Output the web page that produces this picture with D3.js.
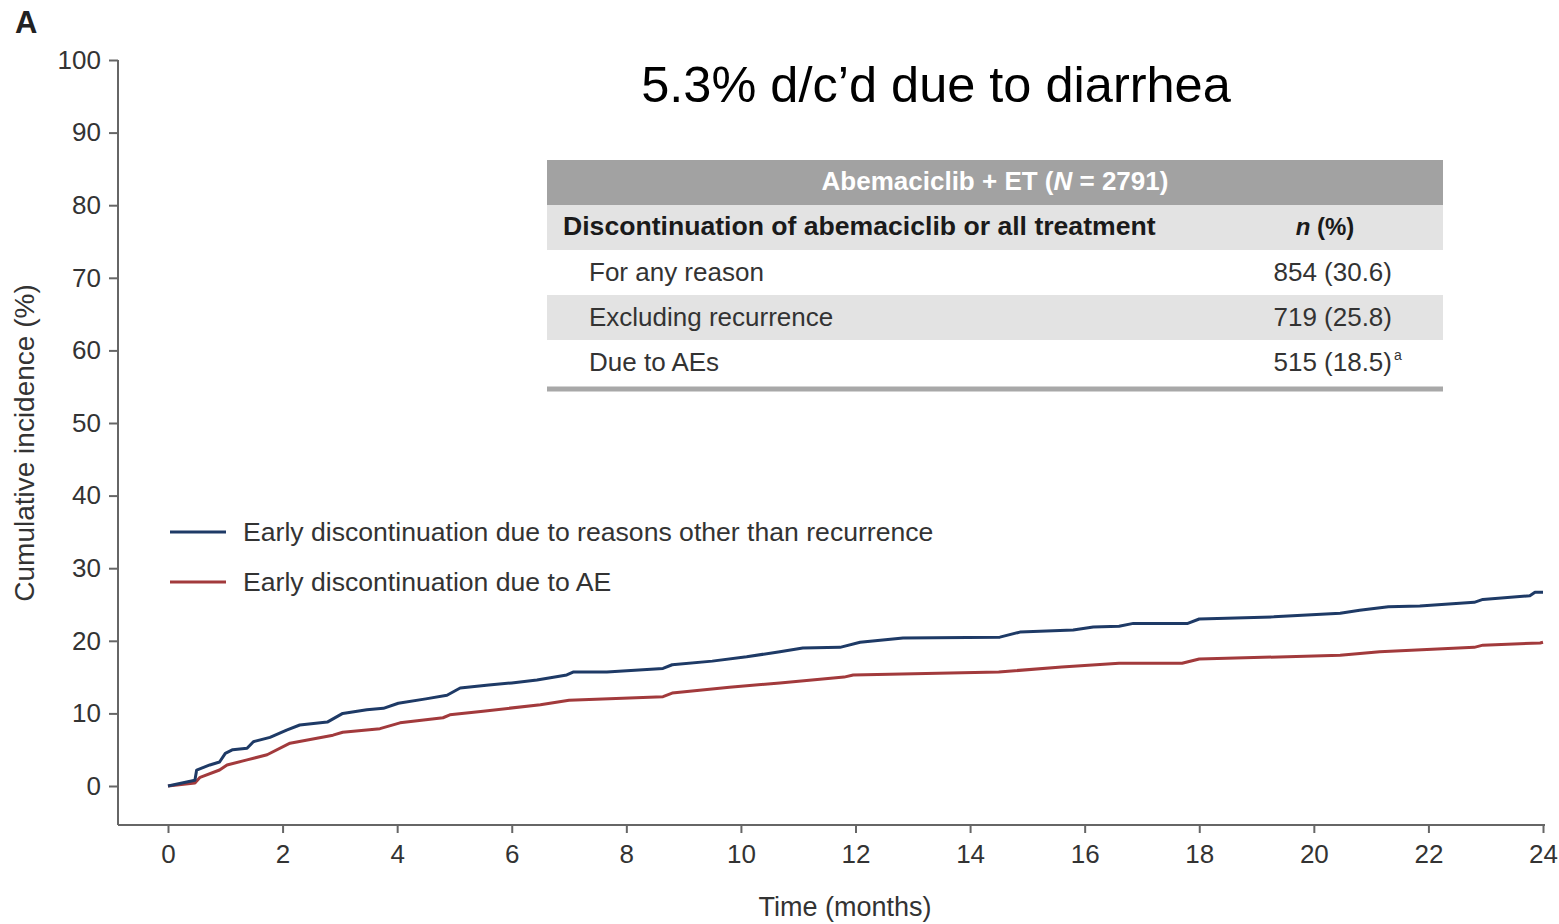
<!DOCTYPE html>
<html>
<head>
<meta charset="utf-8">
<script src="https://cdn.jsdelivr.net/npm/d3@7"></script>
<style>
  body { margin: 0; background: #fff; }
  svg { display: block; font-family: "Liberation Sans", Arial, sans-serif; }
</style>
</head>
<body>
<div id="chart"></div>
<script>
/* DATA */
const otherMonths = [0, 0.47, 0.5, 0.73, 0.9, 1.0, 1.13, 1.38, 1.49, 1.78, 2.07, 2.3, 2.78, 3.05, 3.47, 3.76, 4.02, 4.5, 4.87, 5.1, 5.6, 6.0, 6.44, 6.96, 7.07, 7.66, 8.64, 8.8, 9.5, 10.1, 10.68, 11.08, 11.73, 12.08, 12.83, 14.52, 14.87, 15.8, 16.15, 16.6, 16.85, 17.8, 18.0, 19.3, 20.46, 20.8, 21.3, 21.85, 22.8, 22.95, 23.77, 23.86, 24.0];
const otherValues = [0, 0.8, 2.2, 2.9, 3.3, 4.5, 5.0, 5.2, 6.1, 6.7, 7.7, 8.4, 8.8, 10.0, 10.5, 10.7, 11.4, 12.0, 12.5, 13.5, 13.9, 14.2, 14.6, 15.3, 15.7, 15.7, 16.2, 16.7, 17.2, 17.8, 18.5, 19.0, 19.1, 19.8, 20.4, 20.5, 21.2, 21.5, 21.9, 22.0, 22.4, 22.4, 23.0, 23.3, 23.8, 24.2, 24.7, 24.8, 25.3, 25.7, 26.2, 26.7, 26.7];

const aeMonths = [0, 0.47, 0.56, 0.9, 1.03, 1.38, 1.73, 2.13, 2.88, 3.05, 3.7, 4.05, 4.8, 4.92, 5.5, 6.5, 7.0, 8.64, 8.8, 9.8, 10.68, 11.8, 11.96, 14.5, 15.6, 16.6, 17.7, 18.0, 20.46, 21.15, 22.8, 22.95, 23.95, 24.0];
const aeValues = [0, 0.4, 1.2, 2.2, 2.9, 3.6, 4.3, 5.9, 7.0, 7.4, 7.9, 8.7, 9.4, 9.8, 10.3, 11.2, 11.8, 12.3, 12.8, 13.6, 14.2, 15.0, 15.3, 15.7, 16.4, 16.9, 16.9, 17.5, 18.0, 18.5, 19.1, 19.4, 19.7, 19.8];

const xTicks = d3.range(0, 25, 2);
const yTicks = d3.range(0, 101, 10);

const legendLabels = ["Early discontinuation due to reasons other than recurrence", "Early discontinuation due to AE"];
const seriesColors = ["#1e3a66", "#a23a3c"];

const tableRows = [
  ["For any reason", "854 (30.6)", ""],
  ["Excluding recurrence", "719 (25.8)", ""],
  ["Due to AEs", "515 (18.5)", "a"]
];

/* LAYOUT */
const width = 1559, height = 924;
const textColor = "#333";
const axisColor = "#666";

const svg = d3.select("#chart").append("svg")
  .attr("width", width)
  .attr("height", height);

const xScale = d3.scaleLinear().domain([0, 24]).range([168, 1543]);
const yScale = d3.scaleLinear().domain([0, 100]).range([786, 60]);

const axisLeftX = 118, axisBottomY = 825;

// y axis
const yAxisGroup = svg.append("g")
  .attr("transform", `translate(${axisLeftX},0)`)
  .call(d3.axisLeft(yScale).tickValues(yTicks).tickSize(9).tickPadding(8).tickSizeOuter(0));
yAxisGroup.select(".domain").remove();
yAxisGroup.append("line")
  .attr("x1", 0).attr("x2", 0)
  .attr("y1", yScale(100)).attr("y2", axisBottomY)
  .attr("stroke", axisColor).attr("stroke-width", 2);

// x axis
const xAxisGroup = svg.append("g")
  .attr("transform", `translate(0,${axisBottomY})`)
  .call(d3.axisBottom(xScale).tickValues(xTicks).tickSize(8).tickPadding(12).tickSizeOuter(0));
xAxisGroup.select(".domain").remove();
xAxisGroup.append("line")
  .attr("x1", axisLeftX).attr("x2", xScale(24) + 2)
  .attr("y1", 0).attr("y2", 0)
  .attr("stroke", axisColor).attr("stroke-width", 2);

[yAxisGroup, xAxisGroup].forEach(g => {
  g.selectAll(".tick line").attr("stroke", axisColor).attr("stroke-width", 2);
  g.selectAll(".tick text")
    .attr("fill", textColor)
    .style("font-size", "26px")
    .style("font-family", "'Liberation Sans', Arial, sans-serif");
});

// axis labels
svg.append("text")
  .attr("x", 845)
  .attr("y", 916)
  .attr("text-anchor", "middle")
  .attr("fill", textColor)
  .style("font-size", "27px")
  .text("Time (months)");

svg.append("text")
  .attr("transform", "translate(34,443) rotate(-90)")
  .attr("text-anchor", "middle")
  .attr("fill", textColor)
  .style("font-size", "28px")
  .text("Cumulative incidence (%)");

// panel letter
svg.append("text")
  .attr("x", 15).attr("y", 33)
  .attr("fill", "#222")
  .style("font-size", "31px")
  .style("font-weight", "bold")
  .text("A");

// title annotation
svg.append("text")
  .attr("x", 936).attr("y", 102)
  .attr("text-anchor", "middle")
  .attr("fill", "#000")
  .style("font-size", "50.5px")
  .text("5.3% d/c\u2019d due to diarrhea");

/* LINES */
const lineGen = d3.line()
  .x(d => xScale(d[0]))
  .y(d => yScale(d[1]));

const series = [
  d3.zip(otherMonths, otherValues),
  d3.zip(aeMonths, aeValues)
];

svg.selectAll(".line")
  .data(series.slice().reverse())
  .join("path")
  .attr("class", "line")
  .attr("d", lineGen)
  .attr("fill", "none")
  .attr("stroke", (d, i) => seriesColors[1 - i])
  .attr("stroke-width", 3)
  .attr("stroke-linejoin", "round");

/* LEGEND */
const legend = svg.selectAll(".legend")
  .data(legendLabels)
  .join("g")
  .attr("class", "legend")
  .attr("transform", (d, i) => `translate(170,${532 + i * 50})`);

legend.append("line")
  .attr("x1", 0).attr("x2", 56)
  .attr("stroke", (d, i) => seriesColors[i])
  .attr("stroke-width", 3);

legend.append("text")
  .attr("x", 73).attr("y", 9)
  .attr("fill", textColor)
  .style("font-size", "26.6px")
  .text(d => d);

/* TABLE */
const tableLeft = 547, tableRight = 1443, rowH = 45, tableTop = 160;
const numX = 1392;
const table = svg.append("g");

table.append("rect")
  .attr("x", tableLeft).attr("y", tableTop)
  .attr("width", tableRight - tableLeft).attr("height", rowH)
  .attr("fill", "#a2a2a2");

const headerText = table.append("text")
  .attr("x", (tableLeft + tableRight) / 2)
  .attr("y", tableTop + 30)
  .attr("text-anchor", "middle")
  .attr("fill", "#fff")
  .style("font-size", "26px")
  .style("font-weight", "bold");
headerText.append("tspan").text("Abemaciclib + ET (");
headerText.append("tspan").style("font-style", "italic").text("N");
headerText.append("tspan").text(" = 2791)");

table.append("rect")
  .attr("x", tableLeft).attr("y", tableTop + rowH)
  .attr("width", tableRight - tableLeft).attr("height", rowH)
  .attr("fill", "#e3e3e3");

table.append("text")
  .attr("x", 563).attr("y", tableTop + rowH + 30)
  .attr("fill", "#1a1a1a")
  .style("font-size", "26.6px")
  .style("font-weight", "bold")
  .text("Discontinuation of abemaciclib or all treatment");

const nHead = table.append("text")
  .attr("x", 1325).attr("y", tableTop + rowH + 30)
  .attr("text-anchor", "middle")
  .attr("fill", "#1a1a1a")
  .style("font-size", "24px")
  .style("font-weight", "bold");
nHead.append("tspan").style("font-style", "italic").text("n");
nHead.append("tspan").text(" (%)");

const rows = table.selectAll(".trow")
  .data(tableRows)
  .join("g")
  .attr("class", "trow")
  .attr("transform", (d, i) => `translate(0,${tableTop + rowH * (i + 2)})`);

rows.append("rect")
  .attr("x", tableLeft)
  .attr("width", tableRight - tableLeft)
  .attr("height", rowH)
  .attr("fill", (d, i) => i % 2 === 1 ? "#e3e3e3" : "#fff");

rows.append("text")
  .attr("x", 589).attr("y", 31)
  .attr("fill", textColor)
  .style("font-size", "26px")
  .text(d => d[0]);

rows.append("text")
  .attr("x", numX).attr("y", 31)
  .attr("text-anchor", "end")
  .attr("fill", textColor)
  .style("font-size", "26px")
  .text(d => d[1]);

rows.filter(d => d[2] !== "")
  .append("text")
  .attr("x", numX + 2).attr("y", 20)
  .attr("fill", textColor)
  .style("font-size", "14px")
  .text(d => d[2]);

table.append("line")
  .attr("x1", tableLeft).attr("x2", tableRight)
  .attr("y1", tableTop + rowH * 5 + 4).attr("y2", tableTop + rowH * 5 + 4)
  .attr("stroke", "#a8a8a8")
  .attr("stroke-width", 5);
</script>
</body>
</html>
